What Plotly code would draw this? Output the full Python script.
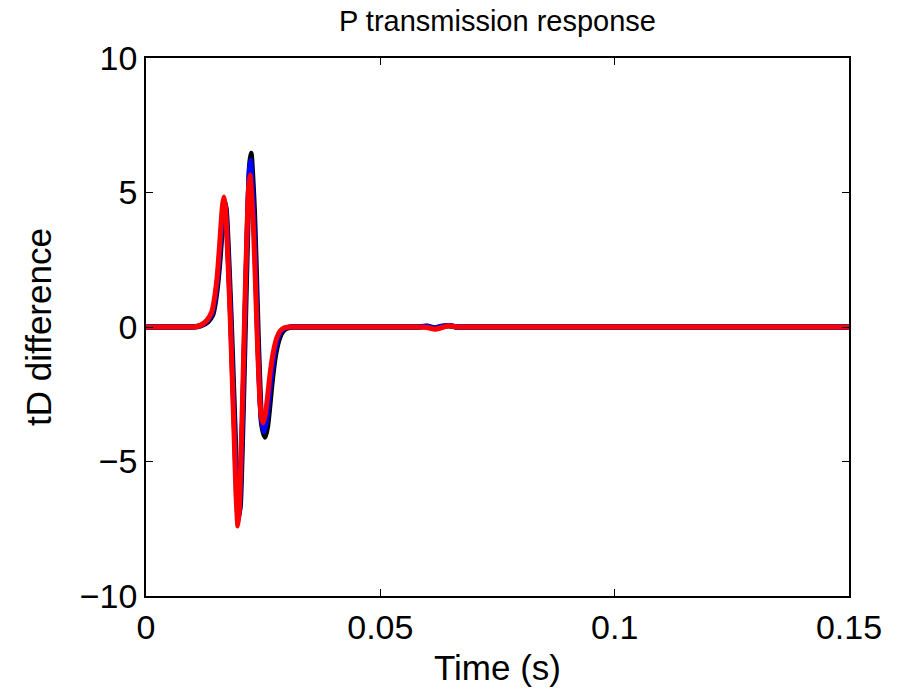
import plotly.graph_objects as go

# Red trace
t_red = [0.0, 0.0080, 0.0100, 0.0115, 0.0130, 0.0140, 0.0144, 0.0148, 0.0152, 0.0156, 0.0160, 0.0163, 0.0166,
         0.0169, 0.0172, 0.0176, 0.0180, 0.0184, 0.0188, 0.0192, 0.0196, 0.0199, 0.0203, 0.0207, 0.0211,
         0.0215, 0.0219, 0.0222, 0.0225, 0.0229, 0.0233, 0.0237, 0.0241, 0.0245, 0.0250, 0.0255, 0.0260,
         0.0265, 0.0272, 0.0279, 0.0286, 0.0295, 0.0305, 0.0330,
         0.0560, 0.0580, 0.0600, 0.0617, 0.0632, 0.0645, 0.0660, 0.0680, 0.0700, 0.0750, 0.1500]
v_red = [0.0, 0.0, 0.0, 0.05, 0.25, 0.55, 0.85, 1.3, 1.9, 2.8, 3.8, 4.5, 4.83,
         4.55, 3.6, 2.0, 0.2, -1.9, -4.0, -6.2, -7.4, -6.8, -4.6, -2.0, 0.8,
         3.3, 5.2, 5.65, 5.0, 3.8, 1.9, -0.2, -2.0, -3.2, -3.57, -3.2, -2.5,
         -1.7, -0.9, -0.4, -0.15, -0.03, 0.0, 0.0,
         0.0, 0.0, -0.02, -0.08, -0.02, 0.05, 0.01, 0.0, 0.0, 0.0, 0.0]

# Blue trace
t_blue = [0.0, 0.0080, 0.0100, 0.0116, 0.0131, 0.0141, 0.0145, 0.0149, 0.0153, 0.0157, 0.0161, 0.0164, 0.0167,
          0.0170, 0.0173, 0.0177, 0.0181, 0.0185, 0.0189, 0.0193, 0.0197, 0.0200, 0.0204, 0.0208, 0.0212,
          0.0216, 0.0220, 0.0223, 0.0226, 0.0230, 0.0234, 0.0238, 0.0242, 0.0246, 0.0252, 0.0257, 0.0262,
          0.0267, 0.0274, 0.0281, 0.0288, 0.0297, 0.0308, 0.0335,
          0.0560, 0.0580, 0.0600, 0.0615, 0.0630, 0.0648, 0.0662, 0.0680, 0.0700, 0.0750, 0.1500]
v_blue = [0.0, 0.0, 0.0, 0.05, 0.23, 0.5, 0.8, 1.25, 1.85, 2.7, 3.7, 4.4, 4.7,
          4.45, 3.5, 1.9, 0.1, -2.0, -4.0, -6.1, -7.2, -6.7, -4.6, -1.9, 1.0,
          3.6, 5.7, 6.2, 5.5, 4.1, 2.0, -0.3, -2.2, -3.4, -3.9, -3.5, -2.75,
          -1.9, -1.0, -0.45, -0.17, -0.04, 0.0, 0.0,
          0.0, 0.0, 0.03, -0.05, 0.02, 0.06, 0.0, 0.0, 0.0, 0.0, 0.0]

# Black trace
t_black = [0.0, 0.0080, 0.0100, 0.0117, 0.0132, 0.0142, 0.0146, 0.0150, 0.0154, 0.0158, 0.0162, 0.0165, 0.0168,
           0.0171, 0.0174, 0.0178, 0.0182, 0.0186, 0.0190, 0.0194, 0.0198, 0.0201, 0.0205, 0.0209, 0.0213,
           0.0217, 0.0221, 0.0224, 0.0227, 0.0231, 0.0235, 0.0239, 0.0243, 0.0247, 0.0254, 0.0259, 0.0264,
           0.0269, 0.0276, 0.0283, 0.0290, 0.0299, 0.0311, 0.0340,
           0.0560, 0.0580, 0.0600, 0.0615, 0.0630, 0.0648, 0.0662, 0.0680, 0.0700, 0.0750, 0.1500]
v_black = [0.0, 0.0, 0.0, 0.05, 0.2, 0.45, 0.75, 1.2, 1.8, 2.6, 3.6, 4.3, 4.6,
           4.35, 3.4, 1.8, 0.0, -2.0, -4.0, -6.0, -7.0, -6.6, -4.5, -1.8, 1.1,
           3.8, 5.9, 6.45, 5.7, 4.3, 2.1, -0.3, -2.3, -3.6, -4.09, -3.7, -2.9,
           -2.0, -1.05, -0.5, -0.2, -0.05, 0.0, 0.0,
           0.0, 0.0, 0.03, -0.04, 0.02, 0.05, 0.0, 0.0, 0.0, 0.0, 0.0]

x_ticks = [0, 0.05, 0.1, 0.15]
x_ticktext = ["0", "0.05", "0.1", "0.15"]
y_ticks = [-10, -5, 0, 5, 10]
y_ticktext = ["\u221210", "\u22125", "0", "5", "10"]

fig = go.Figure()
fig.add_trace(go.Scatter(x=t_black, y=v_black, mode="lines",
                         line=dict(color="black", width=5.5, shape="spline", smoothing=0.6)))
fig.add_trace(go.Scatter(x=t_blue, y=v_blue, mode="lines",
                         line=dict(color="blue", width=5, shape="spline", smoothing=0.6)))
fig.add_trace(go.Scatter(x=t_red, y=v_red, mode="lines",
                         line=dict(color="red", width=5, shape="spline", smoothing=0.6)))

font_family = "Liberation Sans, Arial, sans-serif"
fig.update_layout(
    width=900, height=694,
    margin=dict(l=146, r=51, t=58, b=98),
    paper_bgcolor="white", plot_bgcolor="white",
    showlegend=False,
    font=dict(family=font_family, color="black"),
    title=dict(text="P transmission response", x=0.5, xanchor="center", y=0.9697, yanchor="middle",
               xref="paper", yref="container",
               font=dict(size=29, family=font_family, color="black")),
    xaxis=dict(range=[0, 0.15], tickvals=x_ticks, ticktext=x_ticktext,
               ticks="inside", ticklen=7, tickwidth=1, tickcolor="black",
               showline=True, linecolor="black", linewidth=1.5, mirror="ticks",
               showgrid=False, zeroline=False,
               tickfont=dict(size=34, family=font_family),
               title=dict(text="Time (s)", font=dict(size=35, family=font_family), standoff=11)),
    yaxis=dict(range=[-10, 10], tickvals=y_ticks, ticktext=y_ticktext,
               ticks="inside", ticklen=7, tickwidth=1, tickcolor="black",
               showline=True, linecolor="black", linewidth=1.5, mirror="ticks",
               showgrid=False, zeroline=False,
               tickfont=dict(size=34, family=font_family),
               title=dict(text="tD difference", font=dict(size=35, family=font_family), standoff=18)),
)

fig.write_html("out.html")
